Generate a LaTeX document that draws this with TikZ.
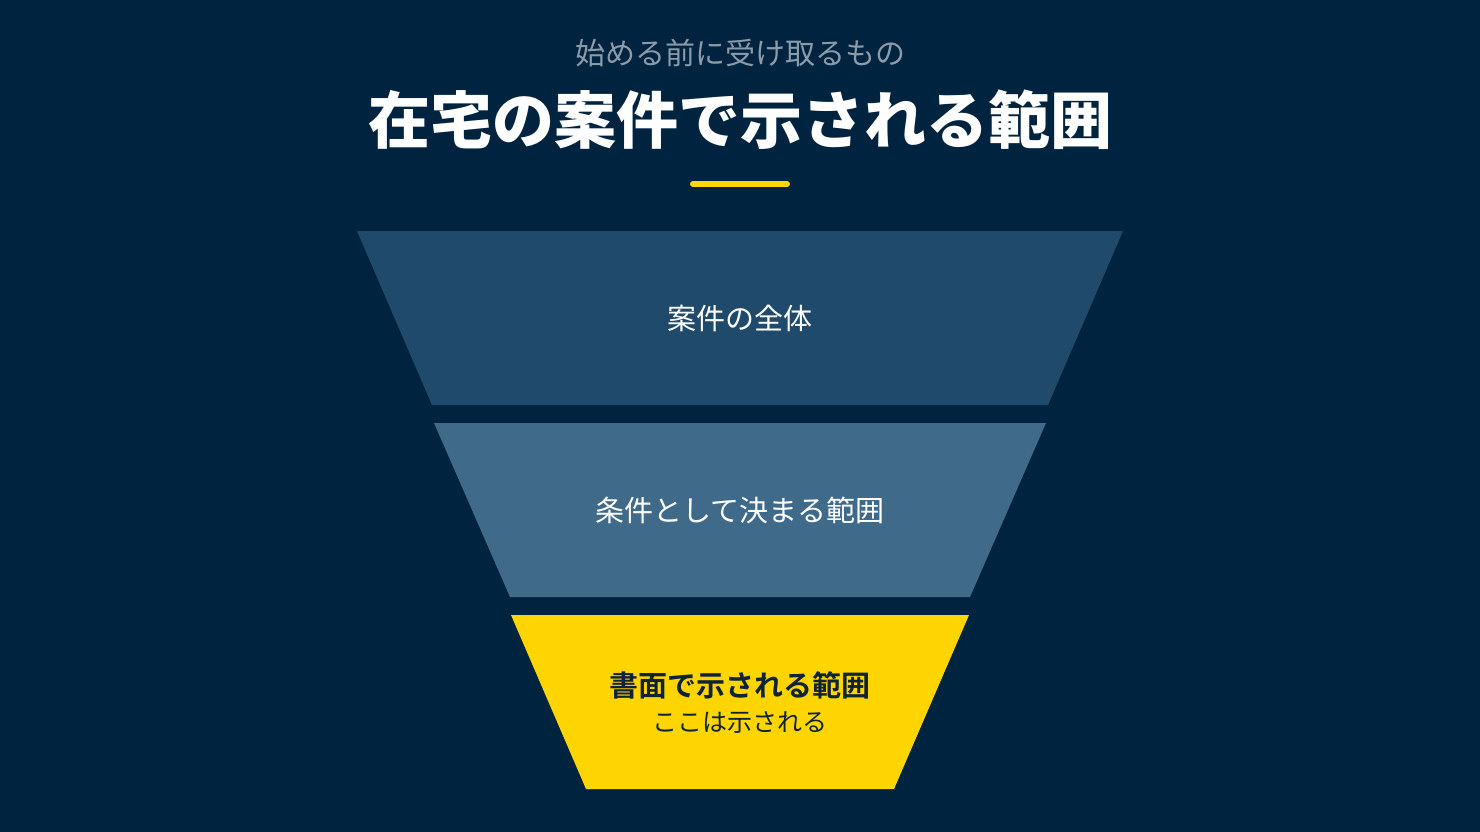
\documentclass[tikz,border=0pt]{standalone}
\usepackage{fontspec}
\setmainfont{Noto Sans CJK JP}
\newfontfamily\jpbold{Noto Sans CJK JP Bold}
\newfontfamily\jpblack{Noto Sans CJK JP Black}
\definecolor{bgnavy}{HTML}{00233F}
\definecolor{layerone}{HTML}{1F4A6B}
\definecolor{layertwo}{HTML}{3F6A8A}
\definecolor{accent}{HTML}{FFD500}
\definecolor{subgray}{HTML}{8A9BAA}
\definecolor{inkdark}{HTML}{0F2337}
\tikzset{
  layer/.style={draw=none},
  lbl/.style={anchor=center, inner sep=0pt, text=white, font=\fontsize{29}{34}\selectfont}
}

\begin{document}
\begin{tikzpicture}[x=1pt,y=-1pt]
  \fill[bgnavy] (0,0) rectangle (1480,832);
  \useasboundingbox (0,0) rectangle (1480,832);
  \node[lbl, text=subgray, font=\fontsize{30}{36}\selectfont] (sub) at (740,53) {始める前に受け取るもの};
  \node[lbl, font=\jpblack\fontsize{62}{70}\selectfont] (title) at (740,120) {在宅の案件で示される範囲};
  \draw[accent, line width=6pt, line cap=round] (693,184) -- (787,184);
  % funnel
  \fill[layer, layerone] (357,231) -- (1123,231) -- (1048,405) -- (432,405) -- cycle;
  \fill[layer, layertwo] (434,423) -- (1046,423) -- (970,597) -- (510,597) -- cycle;
  \fill[layer, accent] (511,615) -- (969,615) -- (894,789) -- (586,789) -- cycle;
  \node[lbl] (whole) at (740,318) {案件の全体};
  \node[lbl] (terms) at (740,510) {条件として決まる範囲};
  \node[lbl, text=inkdark, font=\jpbold\fontsize{29}{34}\selectfont] (written) at (740,685) {書面で示される範囲};
  \node[lbl, text=inkdark, font=\fontsize{25}{30}\selectfont] (shown) at (740,723) {ここは示される};
\end{tikzpicture}
\end{document}
